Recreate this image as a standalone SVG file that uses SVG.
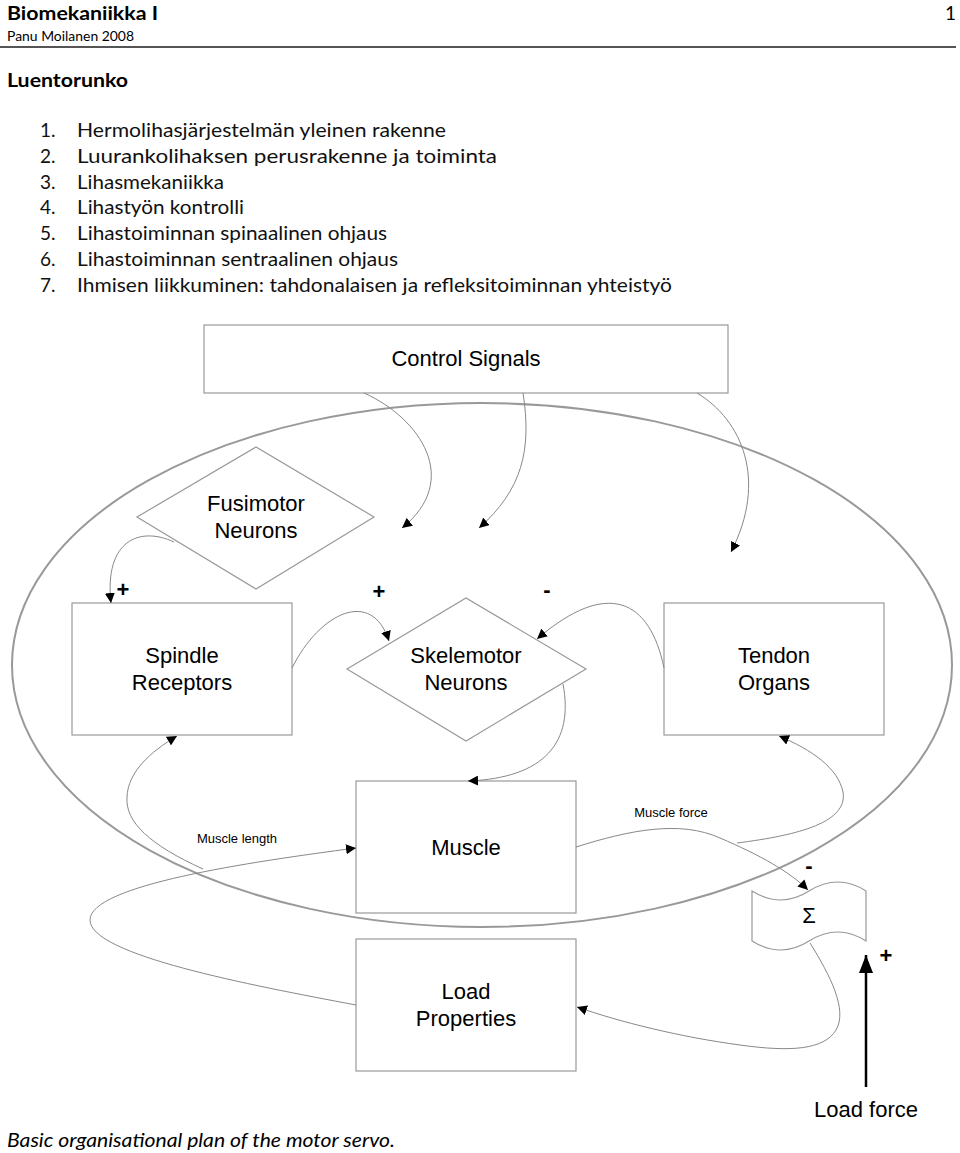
<svg xmlns="http://www.w3.org/2000/svg" width="960" height="1153" viewBox="0 0 960 1153">
<defs>
<style>
.hd{font-family:Lato,"Noto Sans","Liberation Sans",sans-serif;fill:#000}
.b{font-weight:bold}
.li{font-family:Lato,"Noto Sans","Liberation Sans",sans-serif;font-size:19px;fill:#111}
.n{font-family:"Liberation Sans",Arial,sans-serif;font-size:22px;fill:#000;text-anchor:middle}
.s{font-family:"Liberation Sans",Arial,sans-serif;font-size:13px;fill:#000;text-anchor:middle}
.sg{font-family:"Liberation Sans",Arial,sans-serif;font-size:22px;font-weight:bold;fill:#000;text-anchor:middle}
.box{fill:#fff;stroke:#999;stroke-width:1.2}
.c{fill:none;stroke:#888;stroke-width:1}
</style>
<marker id="ah" viewBox="0 0 10 10" refX="10" refY="5" markerWidth="10" markerHeight="10" markerUnits="userSpaceOnUse" orient="auto">
<path d="M0,0 L10,5 L0,10 Z" fill="#000"/>
</marker>
<marker id="ahb" viewBox="0 0 10 10" refX="10" refY="5" markerWidth="18" markerHeight="14" markerUnits="userSpaceOnUse" orient="auto" preserveAspectRatio="none">
<path d="M0,0 L10,5 L0,10 Z" fill="#000"/>
</marker>
</defs>
<rect width="960" height="1153" fill="#fff"/>

<g id="header">
<text class="hd b" x="7" y="20" font-size="19" textLength="151" lengthAdjust="spacingAndGlyphs">Biomekaniikka I</text>
<text class="hd" x="945" y="20" font-size="19">1</text>
<text class="hd" x="7" y="41" font-size="13" textLength="127" lengthAdjust="spacingAndGlyphs">Panu Moilanen 2008</text>
<line x1="0" y1="47" x2="956" y2="47" stroke="#555" stroke-width="2"/>
<text class="hd b" x="7" y="87" font-size="18" textLength="121" lengthAdjust="spacingAndGlyphs">Luentorunko</text>
</g>

<g id="list">
<text class="li" x="40" y="137">1.</text><text class="li" x="77" y="137" textLength="369" lengthAdjust="spacingAndGlyphs">Hermolihasjärjestelmän yleinen rakenne</text>
<text class="li" x="40" y="163">2.</text><text class="li" x="77" y="163" textLength="420" lengthAdjust="spacingAndGlyphs">Luurankolihaksen perusrakenne ja toiminta</text>
<text class="li" x="40" y="189">3.</text><text class="li" x="77" y="189" textLength="147" lengthAdjust="spacingAndGlyphs">Lihasmekaniikka</text>
<text class="li" x="40" y="214">4.</text><text class="li" x="77" y="214" textLength="167" lengthAdjust="spacingAndGlyphs">Lihastyön kontrolli</text>
<text class="li" x="40" y="240">5.</text><text class="li" x="77" y="240" textLength="310" lengthAdjust="spacingAndGlyphs">Lihastoiminnan spinaalinen ohjaus</text>
<text class="li" x="40" y="266">6.</text><text class="li" x="77" y="266" textLength="321" lengthAdjust="spacingAndGlyphs">Lihastoiminnan sentraalinen ohjaus</text>
<text class="li" x="40" y="292">7.</text><text class="li" x="77" y="292" textLength="595" lengthAdjust="spacingAndGlyphs">Ihmisen liikkuminen: tahdonalaisen ja refleksitoiminnan yhteistyö</text>
</g>

<g id="boundary">
<ellipse cx="482" cy="665" rx="470" ry="262" fill="none" stroke="#999" stroke-width="2"/>
</g>

<g id="control-signals">
<rect class="box" x="204" y="325" width="524" height="68"/>
<text class="n" x="466" y="366">Control Signals</text>
</g>

<g id="fusimotor">
<polygon class="box" points="137,517 256,447 374,517 256,589"/>
<text class="n" x="256" y="511">Fusimotor</text>
<text class="n" x="256" y="538">Neurons</text>
</g>

<g id="spindle">
<rect class="box" x="72" y="603" width="220" height="132"/>
<text class="n" x="182" y="663">Spindle</text>
<text class="n" x="182" y="690">Receptors</text>
</g>

<g id="skelemotor">
<polygon class="box" points="347,669 466,598 586,669 466,741"/>
<text class="n" x="466" y="663">Skelemotor</text>
<text class="n" x="466" y="690">Neurons</text>
</g>

<g id="tendon">
<rect class="box" x="664" y="603" width="220" height="132"/>
<text class="n" x="774" y="663">Tendon</text>
<text class="n" x="774" y="690">Organs</text>
</g>

<g id="muscle">
<rect class="box" x="356" y="781" width="220" height="132"/>
<text class="n" x="466" y="855">Muscle</text>
</g>

<g id="load">
<rect class="box" x="356" y="939" width="220" height="132"/>
<text class="n" x="466" y="999">Load</text>
<text class="n" x="466" y="1026">Properties</text>
</g>

<g id="sum">
<path class="box" d="M752,891 Q781,909 809,891 Q838,873 866,891 L866,941 Q838,923 809,941 Q781,959 752,941 Z"/>
<text class="n" x="809" y="923">Σ</text>
</g>

<g id="connectors">
<path class="c" marker-end="url(#ah)" d="M364,393 C420,418 462,480 402,528"/>
<path class="c" marker-end="url(#ah)" d="M523,393 C532,450 522,490 479,528"/>
<path class="c" marker-end="url(#ah)" d="M697,393 C742,420 768,480 731,552"/>
<path class="c" marker-end="url(#ah)" d="M174,542 C140,526 104,540 111,603"/>
<path class="c" marker-end="url(#ah)" d="M292,668 C320,612 372,588 389,641"/>
<path class="c" marker-end="url(#ah)" d="M664,668 C650,600 608,578 537,639"/>
<path class="c" marker-end="url(#ah)" d="M563,684 C574,742 545,778 468,781"/>
<path class="c" marker-end="url(#ah)" d="M576,847 C630,830 680,820 720,838 C760,855 790,872 808,890"/>
<path class="c" marker-end="url(#ah)" d="M737,843 C800,835 848,822 843,792 C838,768 812,750 779,736"/>
<path class="c" marker-end="url(#ah)" d="M356,1005 C250,985 90,955 90,920 C90,885 250,862 356,848"/>
<path class="c" marker-end="url(#ah)" d="M203,869 C150,845 125,822 127,797 C128,772 150,752 177,736"/>
<path class="c" marker-end="url(#ah)" d="M810,943 C830,975 848,1010 836,1030 C824,1050 790,1052 740,1045 C680,1037 620,1022 577,1007"/>
<line x1="866" y1="1087" x2="866" y2="955" stroke="#000" stroke-width="2.5" marker-end="url(#ahb)"/>
</g>

<g id="labels">
<text class="s" x="671" y="817">Muscle force</text>
<text class="s" x="237" y="843">Muscle length</text>
<text class="sg" x="123" y="597">+</text>
<text class="sg" x="379" y="599">+</text>
<text class="sg" x="547" y="597">-</text>
<text class="sg" x="809" y="873">-</text>
<text class="sg" x="886" y="963">+</text>
<text class="n" x="866" y="1117">Load force</text>
</g>

<g id="caption">
<text class="hd" x="7" y="1147" font-size="19" font-style="italic" textLength="388" lengthAdjust="spacingAndGlyphs">Basic organisational plan of the motor servo.</text>
</g>
</svg>
